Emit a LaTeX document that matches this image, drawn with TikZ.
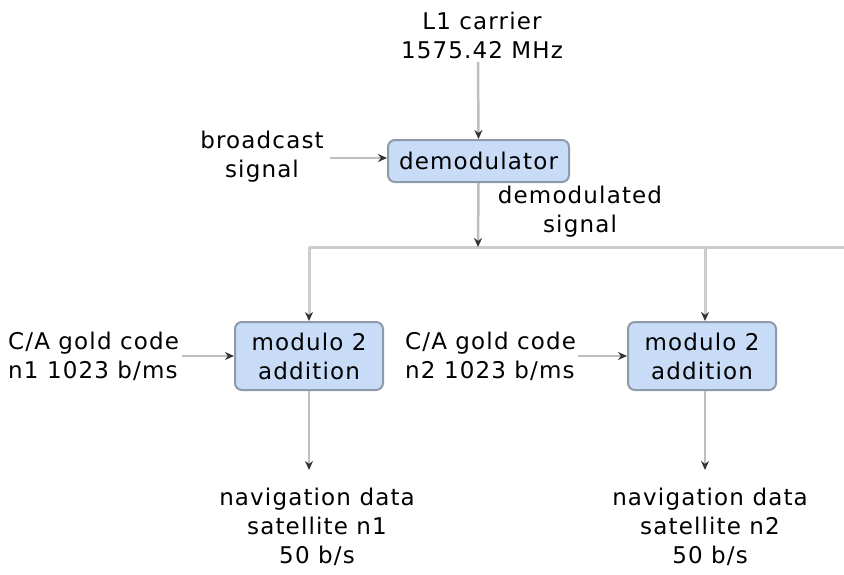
\documentclass[tikz,border=0pt]{standalone}
\usepackage{fontspec}
\setmainfont[LetterSpace=5]{DejaVu Sans}
\usetikzlibrary{arrows.meta}
\definecolor{boxfill}{HTML}{C8DCF7}
\definecolor{boxline}{HTML}{8C9AAC}
\definecolor{wire}{HTML}{BEBEBE}
\definecolor{buswire}{HTML}{CCCCCC}
\begin{document}
\begin{tikzpicture}[x=1pt,y=-1pt,
  font=\fontsize{23}{29}\selectfont,
  block/.style={draw=boxline,line width=2pt,fill=boxfill,rounded corners=7pt,
    align=center,inner sep=0pt},
  lbl/.style={align=center,inner sep=0pt},
  sig/.style={draw=wire,line width=2.5pt,
    -{Stealth[length=9pt,width=8pt,color=black!80]}},
  bus/.style={draw=buswire,line width=3pt}]
\useasboundingbox (0,0) rectangle (844,574);

% blocks
\node[block,minimum width=181pt,minimum height=42pt] (demod) at (478.5,161) {demodulator};
\node[block,minimum width=148pt,minimum height=68pt] (mod1) at (309,356) {modulo 2\\addition};
\node[block,minimum width=148pt,minimum height=68pt] (mod2) at (702,356) {modulo 2\\addition};

% labels
\node[lbl] (carrier) at (482,35) {L1 carrier\\1575.42 MHz};
\node[lbl] (bcast) at (262,157) {broadcast\\signal};
\node[lbl] (dsig) at (580,212) {demodulated\\signal};
\node[lbl,align=left,anchor=west] (gold1) at (8,356) {C/A gold code\\n1 1023 b/ms};
\node[lbl,align=left,anchor=west] (gold2) at (405,356) {C/A gold code\\n2 1023 b/ms};
\node[lbl] (nav1) at (317,527) {navigation data\\satellite n1\\50 b/s};
\node[lbl] (nav2) at (710,527) {navigation data\\satellite n2\\50 b/s};

% bus points
\coordinate (busM) at (478,247);
\coordinate (busA) at (309,247);
\coordinate (busB) at (705,247);
\coordinate (busE) at (844,247);
\coordinate (carrierEnd) at (478,62);
\coordinate (bcastEnd) at (330,158);
\coordinate (gold1End) at (182,356);
\coordinate (gold2End) at (578,356);
\coordinate (out1) at (309,470);
\coordinate (out2) at (705,470);

% distribution bus
\draw[bus] (busA) -- (busE);
\draw[sig,draw=buswire,line width=3pt] (busA) -- (mod1.north -| busA);
\draw[sig,draw=buswire,line width=3pt] (busB) -- (mod2.north -| busB);

% signal arrows
\draw[sig] (carrierEnd) -- (demod.north);
\draw[sig] (bcastEnd) -- (demod.west |- bcastEnd);
\draw[sig] (demod.south) -- (busM);
\draw[sig] (gold1End) -- (mod1.west);
\draw[sig] (gold2End) -- (mod2.west);
\draw[sig] (mod1.south -| busA) -- (out1);
\draw[sig] (mod2.south -| busB) -- (out2);
\end{tikzpicture}
\end{document}
